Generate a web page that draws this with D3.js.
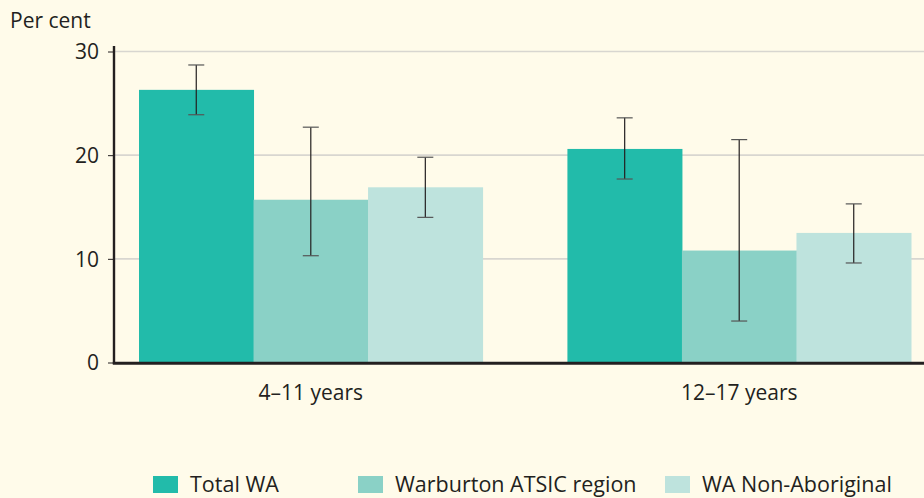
<!DOCTYPE html>
<html lang="en">
  <head>
    <meta charset="UTF-8" />
    <title>Per cent by age group</title>
    <script src="https://cdn.jsdelivr.net/npm/d3@7/dist/d3.min.js"></script>
    <style>
      body {
        margin: 0;
        padding: 0;
        background: #fffbea;
      }
      svg text {
        font-family: "Open Sans", sans-serif;
        fill: #231f20;
      }
    </style>
  </head>
  <body>
    <svg id="chart" width="924" height="498"></svg>
    <script>
      const groups = ["4–11 years", "12–17 years"];
      const seriesNames = ["Total WA", "Warburton ATSIC region", "WA Non-Aboriginal"];
      const colors = ["#22bbaa", "#8ad1c6", "#bee3dd"];
      // per cent, one entry per group
      const totalWA = [26.3, 20.6];
      const warburton = [15.7, 10.8];
      const nonAboriginal = [16.9, 12.5];
      // 95% confidence intervals
      const totalWALow = [23.9, 17.7];
      const totalWAHigh = [28.7, 23.6];
      const warburtonLow = [10.3, 4.0];
      const warburtonHigh = [22.7, 21.5];
      const nonAboriginalLow = [14.0, 9.6];
      const nonAboriginalHigh = [19.8, 15.3];
      const yTicks = [0, 10, 20, 30];

      const values = [totalWA, warburton, nonAboriginal];
      const lows = [totalWALow, warburtonLow, nonAboriginalLow];
      const highs = [totalWAHigh, warburtonHigh, nonAboriginalHigh];

      const svg = d3.select("#chart");
      const plotLeft = 114,
        plotRight = 924,
        plotTop = 51.5,
        plotBottom = 362.5;

      const y = d3.scaleLinear().domain([0, 30]).range([plotBottom, plotTop]);
      const x0 = d3.scaleBand().domain(groups).range([139, 911]).paddingInner(0.198);
      const x1 = d3
        .scaleBand()
        .domain(seriesNames)
        .range([0, x0.bandwidth()]);

      // gridlines
      svg
        .append("g")
        .selectAll("line")
        .data(yTicks.filter((d) => d > 0))
        .enter()
        .append("line")
        .attr("x1", plotLeft)
        .attr("x2", plotRight)
        .attr("y1", (d) => y(d))
        .attr("y2", (d) => y(d))
        .attr("stroke", "#d8d6d0")
        .attr("stroke-width", 1.6);

      // bars
      const rows = [];
      groups.forEach((g, gi) => {
        seriesNames.forEach((s, si) => {
          rows.push({
            group: g,
            series: s,
            si: si,
            value: values[si][gi],
            low: lows[si][gi],
            high: highs[si][gi],
          });
        });
      });

      svg
        .append("g")
        .selectAll("rect")
        .data(rows)
        .enter()
        .append("rect")
        .attr("x", (d) => x0(d.group) + x1(d.series))
        .attr("y", (d) => y(d.value))
        .attr("width", x1.bandwidth() + 0.5)
        .attr("height", (d) => y(0) - y(d.value))
        .attr("fill", (d) => colors[d.si]);

      // error bars
      const err = svg.append("g").attr("stroke", "#231f20").attr("stroke-width", 1.2);
      rows.forEach((d) => {
        const cx = x0(d.group) + x1(d.series) + x1.bandwidth() / 2;
        err
          .append("line")
          .attr("x1", cx)
          .attr("x2", cx)
          .attr("y1", y(d.high))
          .attr("y2", y(d.low));
        [d.high, d.low].forEach((v) => {
          err
            .append("line")
            .attr("x1", cx - 8)
            .attr("x2", cx + 8)
            .attr("y1", y(v))
            .attr("y2", y(v))
            .attr("stroke", "#555");
        });
      });

      // y axis
      const yAxis = d3
        .axisLeft(y)
        .tickValues(yTicks)
        .tickSize(6)
        .tickPadding(9);
      const yg = svg
        .append("g")
        .attr("transform", `translate(${plotLeft},0)`)
        .call(yAxis);
      yg.select(".domain").remove();
      yg.selectAll(".tick line").attr("stroke", "#231f20").attr("stroke-width", 1);
      yg.selectAll(".tick text")
        .style("font-size", "21px")
        .attr("dy", "0.35em");
      svg
        .append("line")
        .attr("x1", plotLeft)
        .attr("x2", plotLeft)
        .attr("y1", 46)
        .attr("y2", plotBottom + 1.5)
        .attr("stroke", "#231f20")
        .attr("stroke-width", 2.4);

      // x axis baseline
      svg
        .append("line")
        .attr("x1", plotLeft - 1.2)
        .attr("x2", plotRight)
        .attr("y1", plotBottom + 0.8)
        .attr("y2", plotBottom + 0.8)
        .attr("stroke", "#231f20")
        .attr("stroke-width", 3);

      // category labels
      svg
        .append("g")
        .selectAll("text")
        .data(groups)
        .enter()
        .append("text")
        .attr("x", (d) => x0(d) + x0.bandwidth() / 2)
        .attr("y", 400)
        .attr("text-anchor", "middle")
        .style("font-size", "21px")
        .text((d) => d);

      // y label
      svg
        .append("text")
        .attr("x", 10)
        .attr("y", 28)
        .style("font-size", "21px")
        .text("Per cent");

      // legend
      const legendX = [153, 358, 665];
      const lg = svg
        .append("g")
        .selectAll("g")
        .data(seriesNames)
        .enter()
        .append("g")
        .attr("transform", (d, i) => `translate(${legendX[i]},476)`);
      lg.append("rect")
        .attr("width", 25)
        .attr("height", 17)
        .attr("fill", (d, i) => colors[i]);
      lg.append("text")
        .attr("x", 37)
        .attr("y", 16)
        .style("font-size", "21.5px")
        .text((d) => d);
    </script>
  </body>
</html>
